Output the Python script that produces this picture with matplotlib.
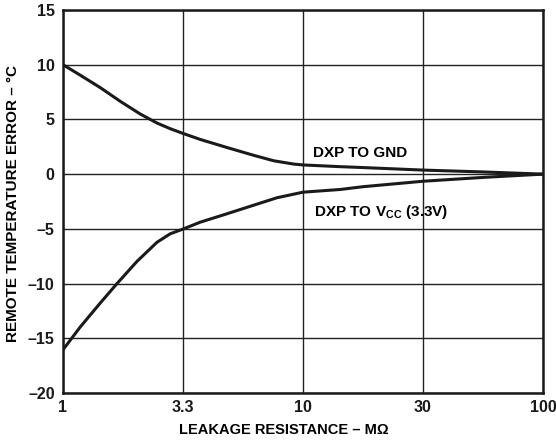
import numpy as np
import matplotlib
matplotlib.use("Agg")
import matplotlib.pyplot as plt

plt.rcParams['font.family'] = ['Liberation Sans', 'DejaVu Sans']
plt.rcParams['font.weight'] = 'bold'
plt.rcParams['mathtext.fontset'] = 'custom'
plt.rcParams['mathtext.rm'] = 'Liberation Sans:bold'
plt.rcParams['mathtext.bf'] = 'Liberation Sans:bold'

# tick values (equally spaced on the chart)
x_ticks = [1, 3.3, 10, 30, 100]
x_tick_labels = ["1", "3.3", "10", "30", "100"]
y_ticks = [-20, -15, -10, -5, 0, 5, 10, 15]
y_tick_labels = ["–20", "–15", "–10", "–5", "0", "5", "10", "15"]

# DXP to GND (leakage resistance in MOhm, error in degC)
gnd_r = [1, 1.188, 1.45, 1.769, 2.158, 2.547, 2.908, 3.3, 3.871, 4.958,
         6.34, 7.63, 9.17, 10, 14.1, 17.3, 30, 54.8, 100]
gnd_err = [10, 9.04, 7.9, 6.65, 5.49, 4.67, 4.15, 3.72, 3.17, 2.43,
           1.72, 1.22, 0.92, 0.84, 0.68, 0.6, 0.37, 0.2, 0]

# DXP to VCC (3.3V)
vcc_r = [1, 1.188, 1.45, 1.712, 2.089, 2.547, 2.908, 3.3, 3.871, 4.958,
         6.34, 7.86, 10, 14.1, 17.3, 30, 54.8, 100]
vcc_err = [-16.05, -13.96, -11.77, -10.0, -7.97, -6.23, -5.45, -5.02, -4.39, -3.62,
           -2.84, -2.16, -1.65, -1.4, -1.15, -0.65, -0.3, 0]

logt = np.log10(x_ticks)
pos = np.arange(len(x_ticks), dtype=float)

def fwd(x):
    x = np.asarray(x, dtype=float)
    lx = np.log10(np.clip(x, 1e-12, None))
    return np.interp(lx, logt, pos)

def inv(p):
    p = np.asarray(p, dtype=float)
    return 10 ** np.interp(p, pos, logt)

fig = plt.figure(figsize=(5.56, 4.42), dpi=100)
ax = fig.add_axes([0.1133, 0.1109, 0.8633, 0.8665])
ax.set_xscale('function', functions=(fwd, inv))
ax.set_xlim(1, 100)
ax.set_ylim(-20, 15)

ax.plot(gnd_r, gnd_err, color='#1a1a1a', lw=2.2, solid_capstyle='butt',
        solid_joinstyle='round', zorder=3)
ax.plot(vcc_r, vcc_err, color='#1a1a1a', lw=2.2, solid_capstyle='butt',
        solid_joinstyle='round', zorder=3)

ax.set_xticks(x_ticks)
ax.set_xticklabels(x_tick_labels)
ax.set_xticks([], minor=True)
ax.set_yticks(y_ticks)
ax.set_yticklabels(y_tick_labels)
ax.tick_params(axis='both', length=0, labelsize=11.5, colors='#1a1a1a')
ax.tick_params(axis='x', pad=5)
ax.tick_params(axis='y', pad=6)
for lab in ax.get_xticklabels() + ax.get_yticklabels():
    lab.set_fontweight('bold')

ax.grid(True, color='#222222', lw=1.0)
ax.set_axisbelow(True)
for s in ax.spines.values():
    s.set_linewidth(1.8)
    s.set_color('#1a1a1a')

ax.set_xlabel("LEAKAGE RESISTANCE – MΩ", fontsize=10.5, fontweight='bold')
ax.xaxis.set_label_coords(0.46, -0.078)
ax.set_ylabel("REMOTE TEMPERATURE ERROR – °C", fontsize=11, fontweight='bold')
ax.yaxis.set_label_coords(-0.09, 0.495)

ax.text(11.0, 1.52, "DXP TO GND", fontsize=11, fontweight='bold', ha='left', va='baseline')
ax.text(11.1, -3.8, r"DXP TO V$_{\mathrm{CC}}$ (3.3V)", fontsize=11, fontweight='bold',
        ha='left', va='baseline')

fig.savefig("out.png", dpi=100)
